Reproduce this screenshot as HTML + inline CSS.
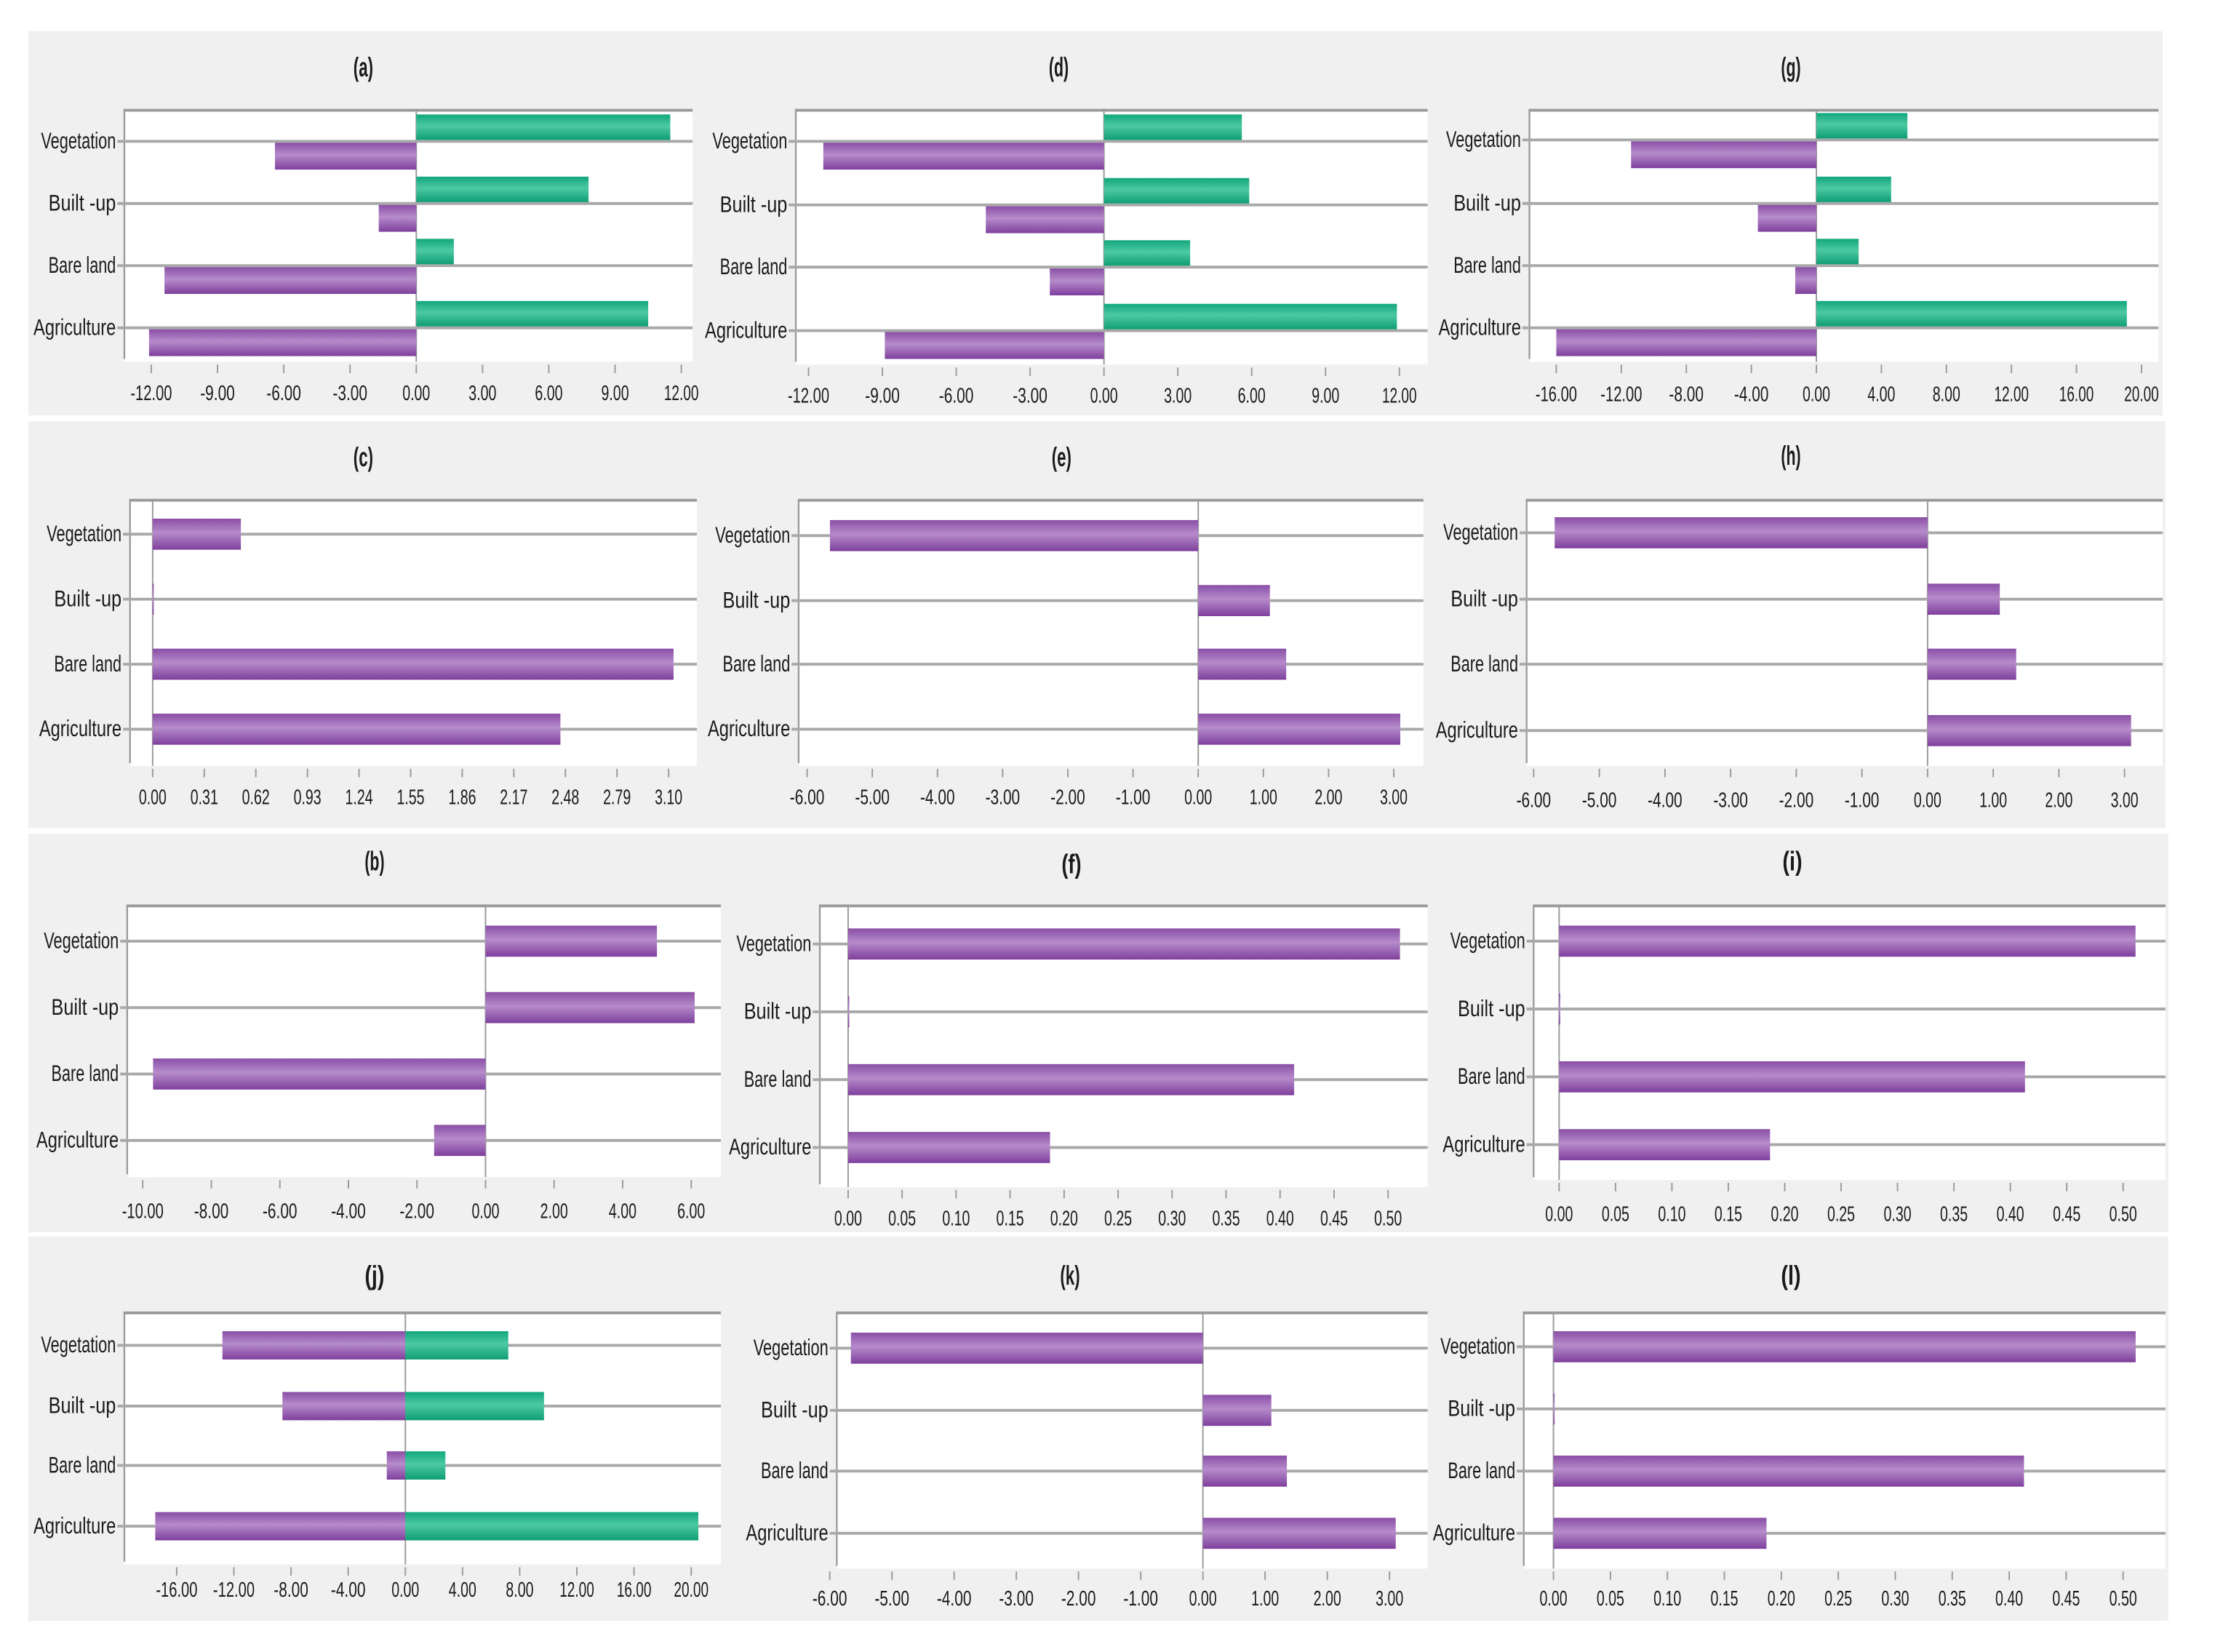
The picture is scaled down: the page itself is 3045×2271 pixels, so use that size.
<!DOCTYPE html>
<html><head><meta charset="utf-8">
<style>html,body{margin:0;padding:0;background:#fff}svg{display:block}text{font-family:"Liberation Sans",sans-serif;fill:#1a1a1a}</style>
</head><body>
<svg id="fig" xmlns="http://www.w3.org/2000/svg" width="3045" height="2271" viewBox="0 0 1567 1169" preserveAspectRatio="none">
<defs>
<linearGradient id="gp" x1="0" y1="0" x2="0" y2="1"><stop offset="0" stop-color="#8a4fa6"/><stop offset="0.45" stop-color="#b68bcb"/><stop offset="1" stop-color="#7e3f9c"/></linearGradient>
<linearGradient id="gg" x1="0" y1="0" x2="0" y2="1"><stop offset="0" stop-color="#12a77c"/><stop offset="0.45" stop-color="#4cc9a2"/><stop offset="1" stop-color="#0f9e74"/></linearGradient>
</defs>
<rect x="20" y="22" width="1510" height="272" fill="#f0f0f0"/>
<rect x="20" y="298" width="1512" height="288" fill="#f0f0f0"/>
<rect x="20" y="590" width="1514" height="282" fill="#f0f0f0"/>
<rect x="20" y="875" width="1514" height="272" fill="#f0f0f0"/>
</svg>
<script>
const categories = ["Vegetation","Built -up","Bare land","Agriculture"];
const aPurple = [-6.4,-1.7,-11.4,-12.1], aGreen = [11.5,7.8,1.7,10.5];
const dPurple = [-11.4,-4.8,-2.2,-8.9], dGreen = [5.6,5.9,3.5,11.9];
const gPurple = [-11.4,-3.6,-1.3,-16.0], gGreen = [5.6,4.6,2.6,19.1];
const cPurple = [0.53,0.005,3.13,2.45];
const ePurple = [-5.65,1.1,1.35,3.1];
const hPurple = [-5.68,1.1,1.35,3.1];
const bPurple = [5.0,6.1,-9.7,-1.5];
const fPurple = [0.511,0.001,0.413,0.187];
const iPurple = [0.511,0.001,0.413,0.187];
const jPurple = [-12.8,-8.6,-1.3,-17.5], jGreen = [7.2,9.7,2.8,20.5];
const kPurple = [-5.66,1.1,1.35,3.1];
const lPurple = [0.511,0.001,0.413,0.187];
const ticks12 = [-12,-9,-6,-3,0,3,6,9,12];
const ticksG = [-16,-12,-8,-4,0,4,8,12,16,20];
const ticksC = [0,0.31,0.62,0.93,1.24,1.55,1.86,2.17,2.48,2.79,3.10];
const ticks6_3 = [-6,-5,-4,-3,-2,-1,0,1,2,3];
const ticksB = [-10,-8,-6,-4,-2,0,2,4,6];
const ticksHalf = [0,0.05,0.1,0.15,0.2,0.25,0.3,0.35,0.4,0.45,0.5];

const NS="http://www.w3.org/2000/svg", svg=document.getElementById('fig');
function mk(tag, attrs, parent){const e=document.createElementNS(NS,tag);for(const k in attrs)e.setAttribute(k,attrs[k]);(parent||svg).appendChild(e);return e;}

const panels = [
 {id:'a',title:'(a)',tx:257,ty:54,px:[88,490],py:[77,256],lines:[100,144,188,232],dom:[-12,12],rng:[107,482],ticks:ticks12,tl:283,p:aPurple,g:aGreen,mode:'split'},
 {id:'d',title:'(d)',tx:749,ty:54,px:[563,1010],py:[77,258],lines:[100,145,189,234],dom:[-12,12],rng:[572,990],ticks:ticks12,tl:285,p:dPurple,g:dGreen,mode:'split'},
 {id:'g',title:'(g)',tx:1267,ty:54,px:[1082,1527],py:[77,256],lines:[99,144,188,232],dom:[-16,20],rng:[1101,1515],ticks:ticksG,tl:284,p:gPurple,g:gGreen,mode:'split'},
 {id:'c',title:'(c)',tx:257,ty:330,px:[92,493],py:[353,542],lines:[378,424,470,516],dom:[0,3.1],rng:[108,473],ticks:ticksC,tl:569,p:cPurple,bh:22},
 {id:'e',title:'(e)',tx:751,ty:330,px:[565,1007],py:[353,542],lines:[379,425,470,516],dom:[-6,3],rng:[571,986],ticks:ticks6_3,tl:569,p:ePurple,bh:22},
 {id:'h',title:'(h)',tx:1267,ty:329,px:[1080,1530],py:[353,542],lines:[377,424,470,517],dom:[-6,3],rng:[1085,1503],ticks:ticks6_3,tl:571,p:hPurple,bh:22},
 {id:'b',title:'(b)',tx:265,ty:616,px:[90,510],py:[640,833],lines:[666,713,760,807],dom:[-10,6],rng:[101,489],ticks:ticksB,tl:862,p:bPurple,bh:22},
 {id:'f',title:'(f)',tx:758,ty:618,px:[580,1010],py:[640,840],lines:[668,716,764,812],dom:[0,0.5],rng:[600,982],ticks:ticksHalf,tl:867,p:fPurple,bh:22},
 {id:'i',title:'(i)',tx:1268,ty:616,px:[1085,1532],py:[640,835],lines:[666,714,762,810],dom:[0,0.5],rng:[1103,1502],ticks:ticksHalf,tl:864,p:iPurple,bh:22},
 {id:'j',title:'(j)',tx:265,ty:909,px:[88,510],py:[928,1107],lines:[952,995,1037,1080],dom:[-16,20],rng:[125,489],ticks:ticksG,tl:1130,p:jPurple,g:jGreen,bh:20,mode:'both'},
 {id:'k',title:'(k)',tx:757,ty:909,px:[592,1010],py:[928,1110],lines:[954,998,1041,1085],dom:[-6,3],rng:[587,983],ticks:ticks6_3,tl:1136,p:kPurple,bh:22},
 {id:'l',title:'(l)',tx:1267,ty:909,px:[1078,1532],py:[928,1110],lines:[953,997,1041,1085],dom:[0,0.5],rng:[1099,1502],ticks:ticksHalf,tl:1136,p:lPurple,bh:22}
];

panels.forEach(P=>{
  const grp=mk('g',{});
  
  
  const X=v=>P.rng[0]+(v-P.dom[0])*(P.rng[1]-P.rng[0])/(P.dom[1]-P.dom[0]);
  const t=mk('text',{x:P.tx,y:P.ty,'font-size':19,'font-weight':'bold','text-anchor':'middle','textLength':14,'lengthAdjust':'spacingAndGlyphs'},grp);
  t.textContent=P.title;
  
  
  const pa=mk('rect',{x:P.px[0],y:P.py[0],width:P.px[1]-P.px[0],height:P.py[1]-P.py[0],fill:'#fff'},grp);
  
  
  mk('line',{x1:P.px[0],x2:P.px[1],y1:P.py[0]+1,y2:P.py[0]+1,stroke:'#9a9a9a','stroke-width':2},grp);
  mk('line',{x1:P.px[0],x2:P.px[0],y1:P.py[0],y2:P.py[1]-2,stroke:'#9a9a9a','stroke-width':1.2},grp);
  mk('line',{x1:X(0),x2:X(0),y1:P.py[0],y2:P.py[1],stroke:'#9a9a9a','stroke-width':1},grp);
  categories.forEach((c,i)=>{
    const y=P.lines[i];
    mk('line',{x1:P.px[0]-5,x2:P.px[1],y1:y,y2:y,stroke:'#a8a8a8','stroke-width':2},grp);
    const lab=mk('text',{x:P.px[0]-6,y:y+5,'font-size':16,'text-anchor':'end','textLength':c.length*5.3,'lengthAdjust':'spacingAndGlyphs'},grp);
    lab.textContent=c;
    
    
  });
  P.ticks.forEach(v=>{
    const x=X(v);
    mk('line',{x1:x,x2:x,y1:P.py[1]+2,y2:P.py[1]+8,stroke:'#9a9a9a','stroke-width':1},grp);
    const s=v.toFixed(2);
    const tt=mk('text',{x:x,y:P.tl,'font-size':15,'text-anchor':'middle','textLength':s.length*4.9,'lengthAdjust':'spacingAndGlyphs'},grp);
    tt.textContent=s;
    
    
  });
  function bar(v,y,h,fill,name){
    const x0=X(0),x1=X(v);
    const r=mk('rect',{x:Math.min(x0,x1),y:y,width:Math.max(Math.abs(x1-x0),0.8),height:h,fill:fill},grp);
    
    
  }
  categories.forEach((c,i)=>{
    const y=P.lines[i];
    if(P.mode==='split'){
      bar(P.g[i],y-19,18,'url(#gg)','bar-green-'+P.id);
      bar(P.p[i],y+1,19,'url(#gp)','bar-purple-'+P.id);
    } else if(P.mode==='both'){
      bar(P.p[i],y-P.bh/2,P.bh,'url(#gp)','bar-purple-'+P.id);
      bar(P.g[i],y-P.bh/2,P.bh,'url(#gg)','bar-green-'+P.id);
    } else {
      bar(P.p[i],y-P.bh/2,P.bh,'url(#gp)','bar-purple-'+P.id);
    }
  });
});
</script>
</body></html>
